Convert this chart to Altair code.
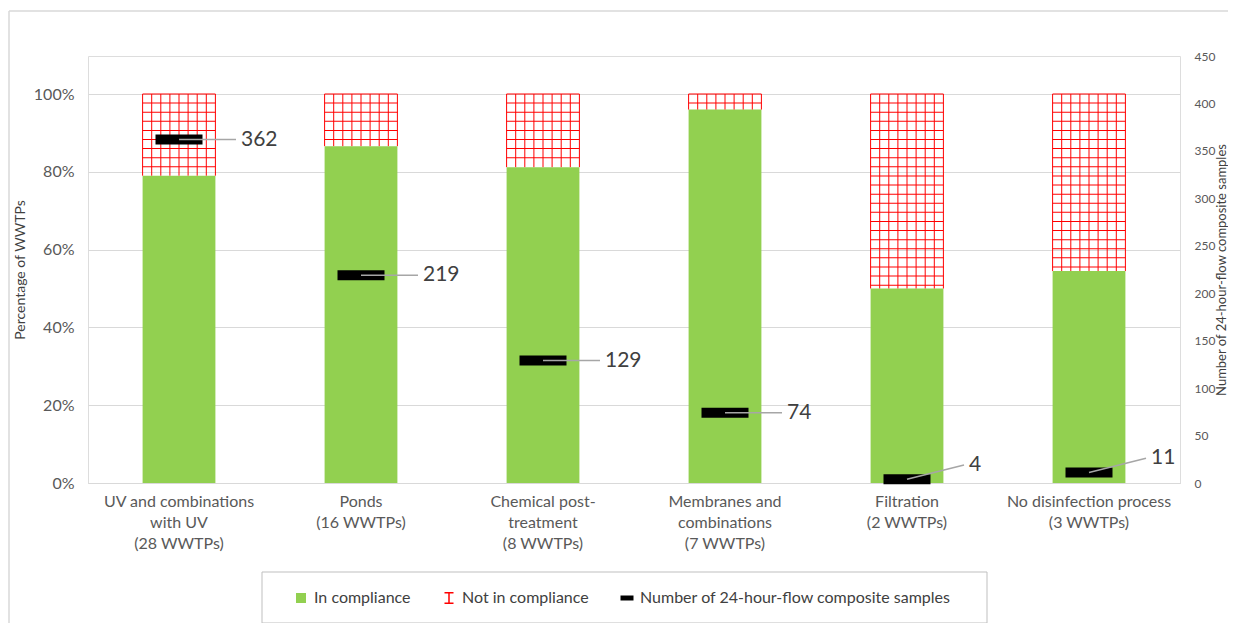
import altair as alt
import pandas as pd

# ---------------- data ----------------
categories = [
    "UV and combinations|with UV|(28 WWTPs)",
    "Ponds|(16 WWTPs)",
    "Chemical post-|treatment|(8 WWTPs)",
    "Membranes and|combinations|(7 WWTPs)",
    "Filtration|(2 WWTPs)",
    "No disinfection process|(3 WWTPs)",
]
compliance = [0.79, 0.866, 0.812, 0.96, 0.50, 0.545]
samples = [362, 219, 129, 74, 4, 11]
label_nudge = [0, 0, 0, 0, 15, 15]
legend_items = ["In compliance", "Not in compliance",
                "Number of 24-hour-flow composite samples"]
pct_ticks = [0, 0.2, 0.4, 0.6, 0.8, 1.0]
count_ticks = [0, 50, 100, 150, 200, 250, 300, 350, 400, 450]

FONT = "Lato"
GRAY = "#595959"
GREEN = "#92d050"
RED = "#ff0000"

df = pd.DataFrame({
    "cat": categories,
    "compliance": compliance,
    "samples": samples,
    "label_y": [s + n for s, n in zip(samples, label_nudge)],
    "top": [1.0] * len(categories),
})

# red grid pattern (decoration) for the non-compliant part of each bar
HATCH_STEP = 0.0234
h_rows = []
for c, v in zip(categories, compliance):
    y = 1.0
    while y > v + 0.003:
        h_rows.append({"cat": c, "h": y})
        y -= HATCH_STEP
hdf = pd.DataFrame(h_rows)
one = pd.DataFrame({"a": [0]})
legdf = pd.DataFrame({"s": legend_items})

BAR_W = 72.8
N_VLINES = 9

# ---------------- encodings ----------------
x_axis = alt.Axis(title=None, labelAngle=0, labelExpr="split(datum.label, '|')",
                  labelFontSize=16, labelColor=GRAY, labelFont=FONT,
                  labelLineHeight=21, labelPadding=10, labelOverlap=False,
                  labelLimit=400, labelBaseline="top", ticks=False,
                  domainColor="#d9d9d9", domainWidth=1)
x_scale = alt.Scale(paddingInner=0.6, paddingOuter=0.3)


def xenc(**kw):
    return alt.X("cat:N", sort=categories, scale=x_scale, axis=x_axis, **kw)


ly_scale = alt.Scale(domain=[0, 1.0977], nice=False, zero=True)
ly_axis = alt.Axis(values=pct_ticks, format=".0%", title="Percentage of WWTPs",
                   grid=True, gridColor="#d9d9d9", domain=False, ticks=False,
                   labelFontSize=16, labelColor=GRAY, labelFont=FONT,
                   labelPadding=14, titleFontSize=14, titleFontWeight="normal",
                   titleColor="#404040", titleFont=FONT, titlePadding=6)

ry_scale = alt.Scale(domain=[0, 450], nice=False, zero=True)
ry_axis = alt.Axis(orient="right", values=count_ticks,
                   title="Number of 24-hour-flow composite samples",
                   grid=False, domain=False, ticks=False,
                   labelFontSize=12, labelColor=GRAY, labelFont=FONT,
                   labelPadding=14, titleAngle=270, titleBaseline="top",
                   titleFontSize=13, titleFontWeight="normal",
                   titleColor="#404040", titleFont=FONT, titlePadding=1)

# ---------------- decorative frame & legend box ----------------
frame_top = alt.Chart(one).mark_rule(color="#d9d9d9", strokeWidth=1.5).encode(
    x=alt.value(-79), x2=alt.value(1160), y=alt.value(-45))
frame_left = alt.Chart(one).mark_rule(color="#d9d9d9", strokeWidth=1.5).encode(
    x=alt.value(-79), y=alt.value(-45), y2=alt.value(640))
legend_box = alt.Chart(one).mark_rect(fill="white", stroke="#bfbfbf", strokeWidth=1).encode(
    x=alt.value(174), x2=alt.value(899), y=alt.value(516), y2=alt.value(567))

# ---------------- left axis layers ----------------
green = alt.Chart(df).mark_bar(color=GREEN, size=BAR_W).encode(
    x=xenc(), y=alt.Y("compliance:Q", scale=ly_scale, axis=ly_axis))

vlines = [
    alt.Chart(df).mark_rule(color=RED, strokeWidth=1,
                            xOffset=-BAR_W / 2 + k * BAR_W / (N_VLINES - 1)).encode(
        x=xenc(), y=alt.Y("compliance:Q", scale=ly_scale, axis=ly_axis), y2="top")
    for k in range(N_VLINES)
]

hlines = alt.Chart(hdf).mark_tick(color=RED, thickness=1, size=BAR_W, opacity=1).encode(
    x=xenc(), y=alt.Y("h:Q", scale=ly_scale, axis=ly_axis))

IBEAM = "M-0.9,-1.2H0.9V-0.9H0.15V0.9H0.9V1.2H-0.9V0.9H-0.15V-0.9H-0.9Z"
DASH = "M-1.3,-0.5H1.3V0.5H-1.3Z"
leg = alt.Legend(orient="none", legendX=205, legendY=534, direction="horizontal",
                 columns=3, title=None, labelFontSize=16, labelColor="#404040",
                 labelFont=FONT, labelLimit=500, symbolOpacity=1, symbolSize=100,
                 symbolStrokeWidth=0, columnPadding=30, labelOffset=5, padding=0)
legend_layer = alt.Chart(legdf).mark_point(filled=True, opacity=0, size=100).encode(
    color=alt.Color("s:N", scale=alt.Scale(domain=legend_items,
                                           range=[GREEN, RED, "#000000"]), legend=leg),
    shape=alt.Shape("s:N", scale=alt.Scale(domain=legend_items,
                                           range=["square", IBEAM, DASH]), legend=leg))

left = alt.layer(frame_top, frame_left, legend_box, green, *vlines, hlines, legend_layer)

# ---------------- right axis layers ----------------
marker = alt.Chart(df).mark_tick(color="black", thickness=10, size=47, opacity=1).encode(
    x=xenc(), y=alt.Y("samples:Q", scale=ry_scale, axis=ry_axis))

leader = alt.Chart(df).mark_rule(color="#a6a6a6", strokeWidth=1.5, x2Offset=57).encode(
    x=xenc(bandPosition=0.5), x2=alt.X2("cat", bandPosition=0.5),
    y=alt.Y("samples:Q", scale=ry_scale, axis=ry_axis), y2="label_y")

labels = alt.Chart(df).mark_text(align="left", baseline="middle", fontSize=21,
                                 color="#404040", font=FONT, dx=62).encode(
    x=xenc(bandPosition=0.5),
    y=alt.Y("label_y:Q", scale=ry_scale, axis=ry_axis),
    text="samples:Q")

right = alt.layer(marker, leader, labels)

chart = alt.layer(left, right).resolve_scale(y="independent").properties(
    width=1092, height=427,
    padding={"left": 80, "top": 48, "right": 48, "bottom": 140},
    autosize=alt.AutoSizeParams(type="none"),
).configure_view(strokeWidth=0).configure(font=FONT)

chart.save("out.html", embed_options={"renderer": "svg", "actions": False})
